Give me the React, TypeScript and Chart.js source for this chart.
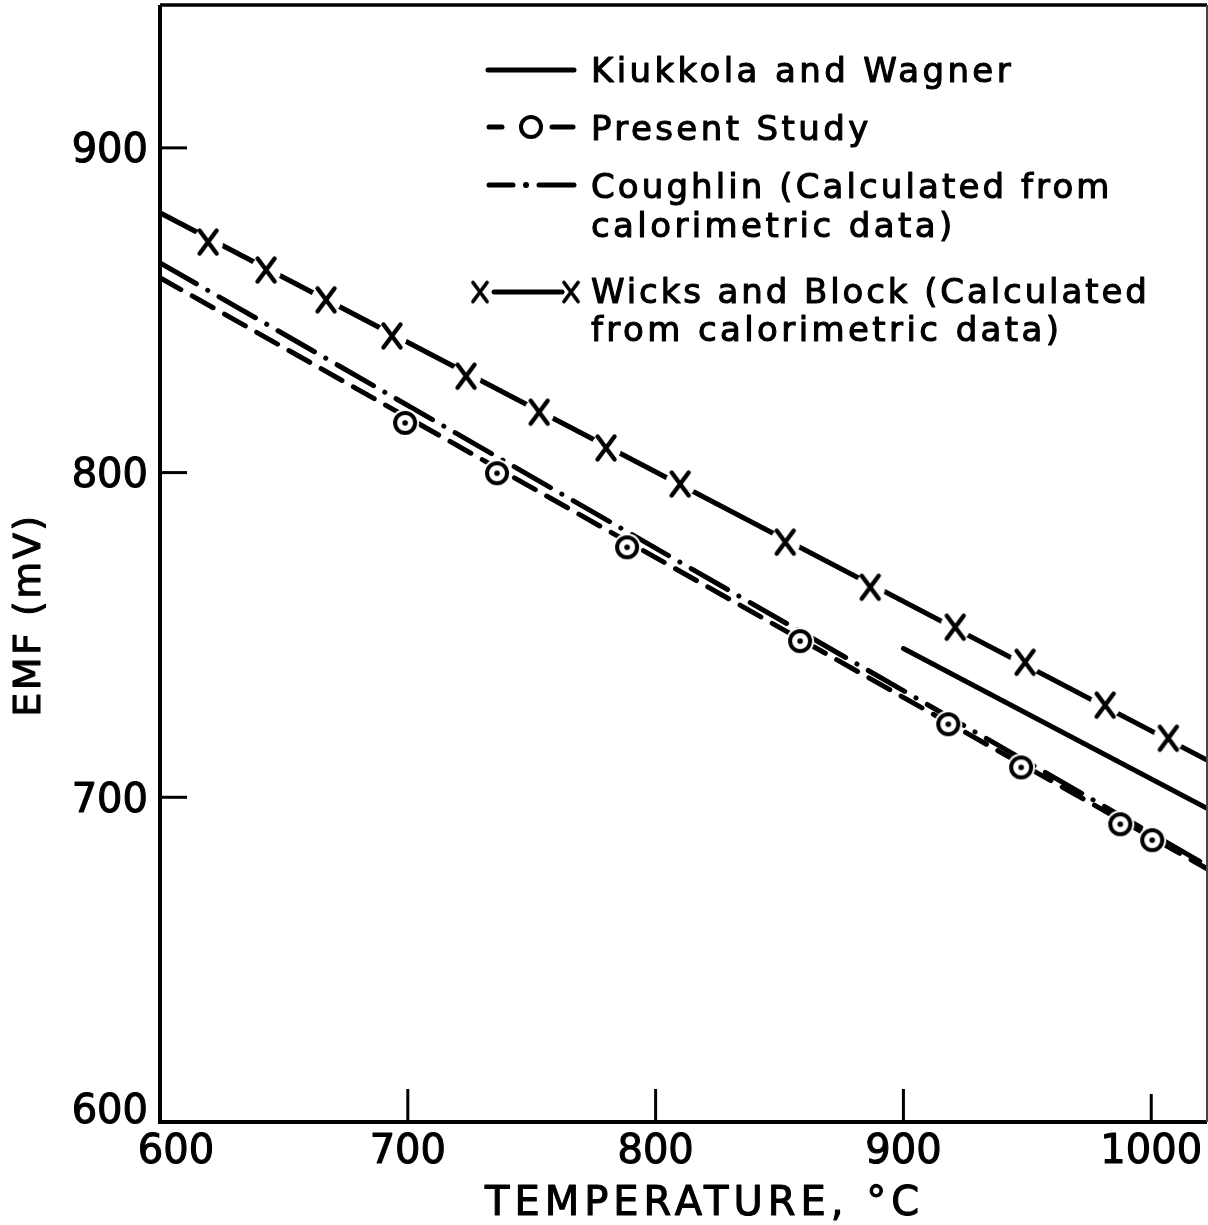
import React, { useEffect, useRef } from "react";
import { Chart, registerables } from "chart.js";

Chart.register(...registerables);

// ---- Data ----
const xTickValues = [600, 700, 800, 900, 1000];
const yTickValues = [600, 700, 800, 900];

const kiukkolaT = [900, 1022.5];
const kiukkolaEmf = [745.8, 696.6];

const presentLineT = [600, 1022.5];
const presentLineEmf = [860.0, 678.0];
const presentT = [698.9, 736.0, 788.5, 858.3, 918.1, 947.5, 987.5, 1000.4];
const presentEmf = [815.3, 799.8, 777.0, 748.1, 722.5, 709.2, 691.7, 686.8];

const coughlinT = [600, 1022.5];
const coughlinEmf = [864.6, 679.0];

const wicksLineT = [600, 1022.5];
const wicksLineEmf = [880.0, 711.5];
const wicksT = [619.4, 642.8, 667.0, 693.6, 723.5, 753.0, 780.0, 809.9, 852.3, 886.6, 920.9, 949.1, 981.4, 1006.9];
const wicksEmf = [871.0, 862.4, 853.2, 842.1, 829.7, 818.6, 807.6, 796.5, 778.6, 764.7, 752.4, 741.6, 728.4, 718.2];

const legendLabels = [
  ["Kiukkola and Wagner"],
  ["Present Study"],
  ["Coughlin (Calculated from", "calorimetric data)"],
  ["Wicks and Block (Calculated", "from calorimetric data)"],
];

const xTitle = "TEMPERATURE, \u00B0C";
const yTitle = "EMF (mV)";

const FONT = "'DejaVu Sans', sans-serif";

const pts = (xs: number[], ys: number[]) => xs.map((x, i) => ({ x, y: ys[i] }));

function makeCircleMarker(dot: boolean): HTMLCanvasElement {
  const c = document.createElement("canvas");
  c.width = 32;
  c.height = 32;
  const g = c.getContext("2d")!;
  g.fillStyle = "#fff";
  g.beginPath();
  g.arc(16, 16, 14, 0, Math.PI * 2);
  g.fill();
  g.strokeStyle = "#000";
  g.lineWidth = 4;
  g.beginPath();
  g.arc(16, 16, 10, 0, Math.PI * 2);
  g.stroke();
  if (dot) {
    g.fillStyle = "#000";
    g.beginPath();
    g.arc(16, 16, 2.8, 0, Math.PI * 2);
    g.fill();
  }
  return c;
}

function makeCrossMarker(bg: boolean): HTMLCanvasElement {
  const c = document.createElement("canvas");
  c.width = 36;
  c.height = 36;
  const g = c.getContext("2d")!;
  if (bg) {
    g.fillStyle = "#fff";
    g.beginPath();
    g.arc(18, 18, 15, 0, Math.PI * 2);
    g.fill();
  }
  g.strokeStyle = "#000";
  g.lineWidth = 4.4;
  g.lineCap = "round";
  g.beginPath();
  g.moveTo(18 - 8.5, 18 - 11.5);
  g.lineTo(18 + 8.5, 18 + 11.5);
  g.moveTo(18 + 8.5, 18 - 11.5);
  g.lineTo(18 - 8.5, 18 + 11.5);
  g.stroke();
  return c;
}

function text(
  ctx: CanvasRenderingContext2D,
  s: string,
  x: number,
  y: number,
  size: number,
  align: CanvasTextAlign,
  spacing: number
) {
  ctx.save();
  ctx.font = `${size}px ${FONT}`;
  (ctx as any).letterSpacing = `${spacing}px`;
  ctx.textAlign = align;
  ctx.textBaseline = "alphabetic";
  ctx.fillStyle = "#000";
  ctx.strokeStyle = "#000";
  ctx.lineWidth = 1.1;
  ctx.lineJoin = "round";
  ctx.fillText(s, x, y);
  ctx.strokeText(s, x, y);
  ctx.restore();
}

export default function App() {
  const ref = useRef<HTMLCanvasElement>(null);

  useEffect(() => {
    const canvas = ref.current!;
    const circle = makeCircleMarker(true);
    const circleLegend = makeCircleMarker(false);
    const cross = makeCrossMarker(true);
    const crossLegend = makeCrossMarker(false);

    const decor = {
      id: "decor",
      afterDraw(chart: any) {
        const ctx: CanvasRenderingContext2D = chart.ctx;
        const { left, right, top, bottom } = chart.chartArea;
        const xs = chart.scales.x;
        const ys = chart.scales.y;
        ctx.save();
        ctx.strokeStyle = "#000";
        ctx.lineCap = "butt";
        // frame
        ctx.lineWidth = 4;
        ctx.beginPath();
        ctx.moveTo(left, top);
        ctx.lineTo(left, bottom);
        ctx.lineTo(right, bottom);
        ctx.stroke();
        ctx.lineWidth = 3.5;
        ctx.beginPath();
        ctx.moveTo(left, top);
        ctx.lineTo(right, top);
        ctx.stroke();
        ctx.lineWidth = 2;
        ctx.strokeStyle = "#444";
        ctx.beginPath();
        ctx.moveTo(right, top);
        ctx.lineTo(right, bottom);
        ctx.stroke();
        ctx.strokeStyle = "#000";
        // ticks (inward)
        ctx.lineWidth = 3;
        for (const v of yTickValues) {
          if (v === 600) continue;
          const py = ys.getPixelForValue(v);
          ctx.beginPath();
          ctx.moveTo(left, py);
          ctx.lineTo(left + 27, py);
          ctx.stroke();
        }
        for (const v of xTickValues) {
          if (v === 600) continue;
          const px = xs.getPixelForValue(v);
          ctx.beginPath();
          ctx.moveTo(px, bottom);
          ctx.lineTo(px, bottom - (v === 1000 ? 28 : 33));
          ctx.stroke();
        }
        ctx.restore();

        // tick labels
        for (const v of yTickValues) {
          const py = ys.getPixelForValue(v);
          const cy = v === 600 ? py - 14 : py;
          text(ctx, String(v), left - 12, cy + 14.6, 40, "right", 0);
        }
        for (const v of xTickValues) {
          const px = xs.getPixelForValue(v);
          const cx = v === 600 ? px + 16 : px;
          text(ctx, String(v), cx, bottom + 26 + 14.6, 40, "center", 0);
        }

        // axis titles
        text(ctx, xTitle, 485, 1215, 40, "left", 5);
        ctx.save();
        ctx.translate(40, 615);
        ctx.rotate(-Math.PI / 2);
        text(ctx, yTitle, 0, 0, 38, "center", 2.5);
        ctx.restore();

        // legend
        ctx.save();
        ctx.strokeStyle = "#000";
        ctx.lineWidth = 5;
        ctx.lineCap = "round";
        const seg = (x1: number, x2: number, y: number) => {
          ctx.beginPath();
          ctx.moveTo(x1, y);
          ctx.lineTo(x2, y);
          ctx.stroke();
        };
        // 1 solid
        seg(488, 574, 70);
        // 2 dashed with circle
        seg(489, 502, 127);
        seg(552, 573, 127);
        ctx.drawImage(circleLegend, 531 - 16, 127 - 16);
        // 3 dash-dot
        seg(489, 513, 185);
        ctx.beginPath();
        ctx.arc(526, 185, 3, 0, Math.PI * 2);
        ctx.fillStyle = "#000";
        ctx.fill();
        seg(539, 574, 185);
        // 4 x—x
        seg(494, 562, 292);
        ctx.drawImage(crossLegend, 480 - 15, 292 - 15, 30, 30);
        ctx.drawImage(crossLegend, 571 - 15, 292 - 15, 30, 30);
        ctx.restore();

        const lx = 591;
        text(ctx, legendLabels[0][0], lx, 82, 34, "left", 3.4);
        text(ctx, legendLabels[1][0], lx, 139.5, 34, "left", 3.4);
        text(ctx, legendLabels[2][0], lx, 197.5, 34, "left", 3.1);
        text(ctx, legendLabels[2][1], lx, 237, 34, "left", 3.4);
        text(ctx, legendLabels[3][0], lx, 302.5, 34, "left", 2.9);
        text(ctx, legendLabels[3][1], lx, 341, 34, "left", 3.4);
      },
    };

    const chart = new Chart(canvas, {
      type: "scatter",
      data: {
        datasets: [
          {
            label: "Present Study points",
            data: pts(presentT, presentEmf),
            showLine: false,
            pointStyle: circle as any,
            pointRadius: 10,
            order: 0,
          },
          {
            label: "Wicks and Block points",
            data: pts(wicksT, wicksEmf),
            showLine: false,
            pointStyle: cross as any,
            pointRadius: 10,
            order: 0,
          },
          {
            label: "Kiukkola and Wagner",
            data: pts(kiukkolaT, kiukkolaEmf),
            showLine: true,
            borderColor: "#000",
            borderWidth: 5,
            borderCapStyle: "round",
            pointRadius: 0,
            order: 1,
          },
          {
            label: "Coughlin",
            data: pts(coughlinT, coughlinEmf),
            showLine: true,
            borderColor: "#000",
            borderWidth: 5,
            borderCapStyle: "round",
            borderDash: [42, 13, 0.1, 13],
            pointRadius: 0,
            order: 2,
          },
          {
            label: "Present Study",
            data: pts(presentLineT, presentLineEmf),
            showLine: true,
            borderColor: "#000",
            borderWidth: 5,
            borderCapStyle: "round",
            borderDash: [24, 13],
            pointRadius: 0,
            order: 2,
          },
          {
            label: "Wicks and Block",
            data: pts(wicksLineT, wicksLineEmf),
            showLine: true,
            borderColor: "#000",
            borderWidth: 5,
            borderCapStyle: "round",
            pointRadius: 0,
            order: 3,
          },
        ],
      },
      options: {
        responsive: false,
        animation: false,
        devicePixelRatio: 1,
        layout: { autoPadding: false, padding: { left: 0, top: 5, right: 1, bottom: 0 } },
        plugins: {
          legend: { display: false },
          tooltip: { enabled: false },
        },
        events: [],
        scales: {
          x: {
            type: "linear",
            min: 600,
            max: 1022.5,
            ticks: { display: false },
            grid: { display: false },
            border: { display: false },
            afterFit: (s: any) => {
              s.height = 103;
            },
          },
          y: {
            type: "linear",
            min: 600,
            max: 944,
            ticks: { display: false },
            grid: { display: false },
            border: { display: false },
            afterFit: (s: any) => {
              s.width = 160;
            },
          },
        },
      },
      plugins: [decor],
    } as any);

    return () => chart.destroy();
  }, []);

  return (
    <canvas
      ref={ref}
      width={1208}
      height={1225}
      style={{ position: "absolute", left: 0, top: 0, width: "1208px", height: "1225px", background: "#fff" }}
    />
  );
}
